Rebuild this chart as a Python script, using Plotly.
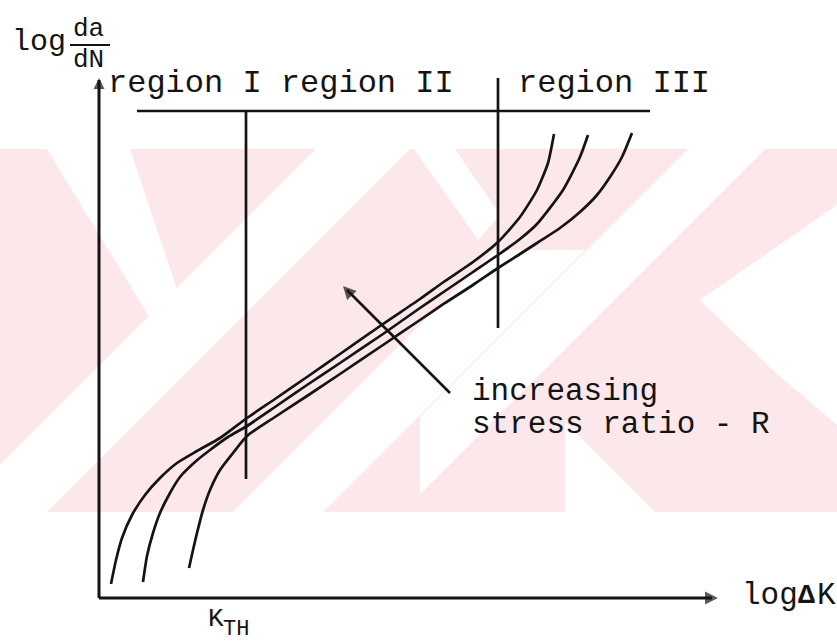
import plotly.graph_objects as go

# ---- data (log ΔK vs log da/dN, arbitrary log units) ----
curve_a_x = [0.12, 0.17, 0.23, 0.33, 0.46, 0.61, 0.78, 0.98, 1.21, 1.48, 1.76, 2.08, 2.41, 2.84, 3.21, 3.46, 3.74, 3.99, 4.21, 4.38, 4.49, 4.55]
curve_a_y = [0.14, 0.38, 0.60, 0.83, 1.03, 1.20, 1.35, 1.47, 1.60, 1.80, 1.99, 2.21, 2.44, 2.74, 2.99, 3.17, 3.36, 3.56, 3.81, 4.08, 4.35, 4.64]

curve_b_x = [0.44, 0.48, 0.54, 0.61, 0.71, 0.81, 0.96, 1.11, 1.29, 1.48, 1.76, 2.08, 2.41, 2.84, 3.21, 3.46, 3.74, 3.99, 4.21, 4.38, 4.64, 4.81, 4.89]
curve_b_y = [0.16, 0.42, 0.65, 0.85, 1.05, 1.21, 1.36, 1.48, 1.61, 1.72, 1.91, 2.13, 2.35, 2.64, 2.90, 3.07, 3.26, 3.43, 3.59, 3.74, 4.08, 4.41, 4.63]

curve_c_x = [0.90, 0.94, 0.98, 1.04, 1.11, 1.21, 1.34, 1.48, 1.76, 2.08, 2.41, 2.84, 3.21, 3.46, 3.74, 3.99, 4.21, 4.38, 4.61, 4.81, 4.98, 5.11, 5.23, 5.33]
curve_c_y = [0.30, 0.48, 0.65, 0.88, 1.08, 1.28, 1.45, 1.62, 1.81, 2.02, 2.24, 2.53, 2.78, 2.95, 3.13, 3.30, 3.44, 3.55, 3.70, 3.86, 4.03, 4.21, 4.41, 4.65]

region_labels = ["region I region II", "region III"]
k_threshold = 1.47      # log ΔK at the threshold / region I-II boundary
k_transition = 3.99     # region II-III boundary

# ---- layout helpers (pixel -> axis units) ----
def X(px):
    return (px - 99) / 100.0

def Y(py):
    return (598 - py) / 100.0

INK = "#141414"
FONT = "Liberation Mono, monospace"
PINK = "#fce8eb"

fig = go.Figure()
for xs, ys in [(curve_a_x, curve_a_y), (curve_b_x, curve_b_y), (curve_c_x, curve_c_y)]:
    fig.add_trace(go.Scatter(x=xs, y=ys, mode="lines",
                             line=dict(color=INK, width=2.7, shape="spline", smoothing=0.6),
                             hoverinfo="skip", showlegend=False))

shapes = []
def poly(pts, color):
    path = "M " + " L ".join(f"{X(a)},{Y(b)}" for a, b in pts) + " Z"
    return dict(type="path", path=path, fillcolor=color, line=dict(width=0), layer="below")

# watermark: pale pink band with white diagonal gaps
shapes.append(poly([(0, 149), (837, 149), (837, 512), (0, 512)], PINK))
white_polys = [
    [(47, 149), (130, 149), (178, 292), (150, 318)],
    [(316, 149), (410, 149), (47, 512), (0, 512), (0, 465)],
    [(233, 512), (323, 512), (585, 250), (495, 250)],
    [(414, 149), (455, 149), (500, 215), (478, 240)],
    [(688, 149), (765, 149), (420, 494), (420, 417)],
    [(700, 300), (837, 205), (837, 425), (775, 372)],
    [(565, 512), (655, 512), (565, 422)],
]
for p in white_polys:
    shapes.append(poly(p, "white"))

def seg(x0, y0, x1, y1, w=2.7):
    return dict(type="line", x0=X(x0), y0=Y(y0), x1=X(x1), y1=Y(y1),
                line=dict(color=INK, width=w), layer="above")

shapes += [
    seg(99, 598, 99, 80, 3),                 # y axis
    seg(99, 598, 712, 598, 3.2),             # x axis
    seg(450, 393, 347, 290, 2.7),            # "increasing R" arrow shaft
    seg(137, 111, 650, 111),                 # top region divider line
    dict(type="line", x0=k_threshold, x1=k_threshold, y0=Y(111), y1=Y(479),
         line=dict(color=INK, width=2.7)),
    dict(type="line", x0=k_transition, x1=k_transition, y0=Y(78), y1=Y(328),
         line=dict(color=INK, width=2.7)),
    seg(70, 45, 110, 45, 2),                  # fraction bar
]
fig.update_layout(shapes=shapes)

# arrow heads as markers
fig.add_trace(go.Scatter(
    x=[X(99), X(718), X(343)], y=[Y(78), Y(598), Y(286)], mode="markers",
    marker=dict(symbol=["arrow-up", "arrow-right", "arrow-up"], angle=[0, 0, -43],
                size=[11, 13, 13], color=INK, line=dict(width=0)),
    hoverinfo="skip", showlegend=False))

ann = []
def text(px, py, s, size=31, anchor="left"):
    ann.append(dict(x=X(px), y=Y(py), xref="x", yref="y", text=s, showarrow=False,
                    xanchor=anchor, yanchor="middle",
                    font=dict(family=FONT, size=size, color=INK)))

text(10, 42, "log", size=30)
text(88, 29, "da", size=26, anchor="center")
text(88, 60, "dN", size=26, anchor="center")
text(106, 83, region_labels[0], size=32)
text(516, 83, region_labels[1], size=32)
text(470, 391, "increasing")
text(470, 424, "stress ratio - R")
text(740, 595, "log", size=31)
text(796, 595, "<b>Δ</b>", size=28)
text(815, 595, "K", size=31)
text(206, 619, "K", size=26)
text(221, 629, "TH", size=22)

fig.update_layout(annotations=ann)
fig.update_layout(
    width=837, height=642,
    margin=dict(l=0, r=0, t=0, b=0),
    paper_bgcolor="white", plot_bgcolor="white",
    xaxis=dict(range=[X(0), X(837)], visible=False, fixedrange=True),
    yaxis=dict(range=[Y(642), Y(0)], visible=False, fixedrange=True),
    showlegend=False,
)
fig.write_html(
    "out.html",
    config={"displayModeBar": False},
    post_script="document.body.style.margin='0';document.body.style.padding='0';"
                "document.documentElement.style.overflow='hidden';",
)
